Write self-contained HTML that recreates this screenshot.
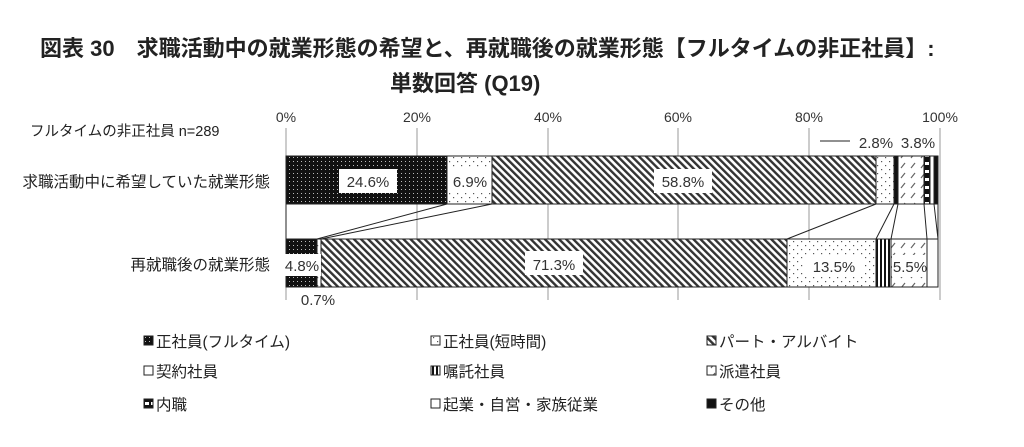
<!DOCTYPE html>
<html><head><meta charset="utf-8"><style>
body{margin:0;background:#fff;width:1024px;height:442px;overflow:hidden;font-family:"Liberation Sans","Noto Sans CJK JP",sans-serif;}
</style></head><body>
<svg width="1024" height="442" xmlns="http://www.w3.org/2000/svg" font-family="Liberation Sans, Noto Sans CJK JP, sans-serif">
<defs>
<pattern id="pFull" width="4" height="4" patternUnits="userSpaceOnUse"><rect width="4" height="4" fill="#111"/><rect x="1" y="1" width="1" height="1" fill="#bbb"/></pattern>
<pattern id="pShort" width="8" height="8" patternUnits="userSpaceOnUse"><rect width="8" height="8" fill="#fff"/><rect x="1" y="1" width="1.2" height="1.2" fill="#555"/><rect x="5" y="5" width="1.2" height="1.2" fill="#555"/></pattern>
<pattern id="pPart" width="5" height="5" patternUnits="userSpaceOnUse" patternTransform="rotate(-45)"><rect width="5" height="5" fill="#fff"/><rect width="2.4" height="5" fill="#333"/></pattern>
<pattern id="pHaken" width="10" height="10" patternUnits="userSpaceOnUse"><rect width="10" height="10" fill="#fff"/><path d="M1 8 L5 3" stroke="#666" stroke-width="1.2"/></pattern>
<pattern id="pShoku" width="4" height="48" patternUnits="userSpaceOnUse"><rect width="4" height="48" fill="#fff"/><rect width="2" height="48" fill="#111"/></pattern>
<pattern id="pNai" width="6" height="8" patternUnits="userSpaceOnUse"><rect width="6" height="8" fill="#111"/><rect x="1" y="2" width="4" height="3" fill="#fff"/></pattern>
</defs>
<text x="40" y="56" font-size="22" font-weight="bold" fill="#222">図表 30　求職活動中の就業形態の希望と、再就職後の就業形態【フルタイムの非正社員】:</text>
<text x="390" y="91" font-size="22" font-weight="bold" fill="#222">単数回答 (Q19)</text>
<text x="30" y="136" font-size="14.5" fill="#222">フルタイムの非正社員 n=289</text>
<g font-size="14" fill="#333" text-anchor="middle">
<text x="286" y="122">0%</text><text x="417" y="122">20%</text><text x="548" y="122">40%</text><text x="678" y="122">60%</text><text x="809" y="122">80%</text><text x="940" y="122">100%</text></g>
<g stroke="#999" stroke-width="1">
<line x1="417" y1="128" x2="417" y2="300"/><line x1="548" y1="128" x2="548" y2="300"/><line x1="678" y1="128" x2="678" y2="300"/><line x1="809" y1="128" x2="809" y2="300"/><line x1="940" y1="128" x2="940" y2="300"/>
<line x1="286" y1="128" x2="286" y2="300"/></g>
<g stroke="#222" stroke-width="1">
<rect x="286" y="156" width="161" height="48" fill="url(#pFull)"/>
<rect x="447" y="156" width="45" height="48" fill="url(#pShort)"/>
<rect x="492" y="156" width="384" height="48" fill="url(#pPart)"/>
<rect x="876" y="156" width="18" height="48" fill="url(#pShort)"/>
<rect x="894" y="156" width="4" height="48" fill="#111"/>
<rect x="898" y="156" width="26" height="48" fill="url(#pHaken)"/>
<rect x="924" y="156" width="6" height="48" fill="url(#pNai)"/>
<rect x="930" y="156" width="4" height="48" fill="#fff"/>
<rect x="934" y="156" width="4" height="48" fill="#111"/>
<rect x="286" y="239" width="31" height="48" fill="url(#pFull)"/>
<rect x="317" y="239" width="4" height="48" fill="url(#pShort)"/>
<rect x="321" y="239" width="466" height="48" fill="url(#pPart)"/>
<rect x="787" y="239" width="89" height="48" fill="url(#pShort)"/>
<rect x="876" y="239" width="15" height="48" fill="url(#pShoku)"/>
<rect x="891" y="239" width="36" height="48" fill="url(#pHaken)"/>
<rect x="927" y="239" width="11" height="48" fill="#fff"/>
</g>
<g stroke="#222" stroke-width="1" fill="none">
<line x1="447" y1="204" x2="317" y2="239"/><line x1="492" y1="204" x2="321" y2="239"/>
<line x1="876" y1="204" x2="787" y2="239"/><line x1="894" y1="204" x2="876" y2="239"/>
<line x1="898" y1="204" x2="891" y2="239"/><line x1="924" y1="204" x2="927" y2="239"/>
<line x1="934" y1="204" x2="938" y2="239"/><line x1="286" y1="204" x2="286" y2="239"/>
<line x1="938" y1="204" x2="938" y2="239"/>
<line x1="820" y1="141" x2="850" y2="141"/>
</g>
<g font-size="15" fill="#333" text-anchor="middle">
<rect x="339" y="169" width="58" height="24" fill="#fff"/><text x="368" y="187">24.6%</text>
<rect x="449" y="169" width="42" height="24" fill="#fff"/><text x="470" y="187">6.9%</text>
<rect x="654" y="169" width="58" height="24" fill="#fff"/><text x="683" y="187">58.8%</text>
<text x="876" y="148">2.8%</text><text x="918" y="148">3.8%</text>
<rect x="283" y="254" width="38" height="22" fill="#fff"/><text x="302" y="271">4.8%</text>
<rect x="525" y="251" width="58" height="24" fill="#fff"/><text x="554" y="270">71.3%</text>
<rect x="805" y="255" width="58" height="22" fill="#fff"/><text x="834" y="272">13.5%</text>
<rect x="892" y="255" width="34" height="22" fill="#fff"/><text x="910" y="272">5.5%</text>
<text x="318" y="305">0.7%</text>
</g>
<g font-size="15.5" fill="#222" text-anchor="end">
<text x="270" y="187">求職活動中に希望していた就業形態</text>
<text x="270" y="270">再就職後の就業形態</text></g>
<g font-size="15.5" fill="#222" stroke-width="1">
<rect x="144" y="336" width="9" height="9" fill="url(#pFull)" stroke="#222"/><text x="156" y="347">正社員(フルタイム)</text>
<rect x="431" y="336" width="9" height="9" fill="url(#pShort)" stroke="#222"/><text x="443" y="347">正社員(短時間)</text>
<rect x="707" y="336" width="9" height="9" fill="url(#pPart)" stroke="#222"/><text x="719" y="347">パート・アルバイト</text>
<rect x="144" y="366" width="9" height="9" fill="#fff" stroke="#222"/><text x="156" y="377">契約社員</text>
<rect x="431" y="366" width="9" height="9" fill="url(#pShoku)" stroke="#222"/><text x="443" y="377">嘱託社員</text>
<rect x="707" y="366" width="9" height="9" fill="url(#pHaken)" stroke="#222"/><text x="719" y="377">派遣社員</text>
<rect x="144" y="399" width="9" height="9" fill="url(#pNai)" stroke="#222"/><text x="156" y="410">内職</text>
<rect x="431" y="399" width="9" height="9" fill="#fff" stroke="#222"/><text x="443" y="410">起業・自営・家族従業</text>
<rect x="707" y="399" width="9" height="9" fill="#111" stroke="#222"/><text x="719" y="410">その他</text>
</g>
</svg>
</body></html>
